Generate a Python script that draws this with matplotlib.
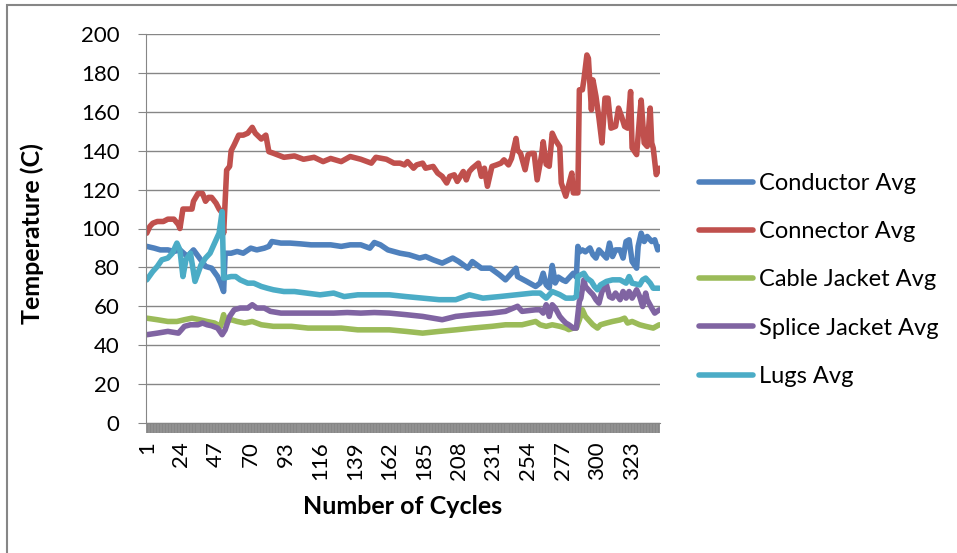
import matplotlib
matplotlib.use("Agg")
import matplotlib.pyplot as plt
from matplotlib.patches import Rectangle

plt.rcParams['font.family'] = ['Lato', 'DejaVu Sans']

# values, (cycle, temperature C) per series
conductor_x = [1, 6, 10, 15, 19, 23, 28, 32, 36, 40, 44, 48, 50, 52, 53, 57, 61, 65, 70, 74,
               79, 82, 84, 90, 96, 103, 110, 116, 123, 130, 136, 143, 149, 152, 156, 161, 169,
               175, 182, 186, 191, 197, 204, 208, 214, 217, 223, 229, 235, 239, 246, 247, 253,
               259, 262, 264, 266, 268, 270, 272, 274, 277, 279, 281, 284, 286, 287, 288, 290,
               292, 295, 297, 299, 301, 303, 306, 308, 310, 312, 315, 317, 319, 321, 323, 326,
               327, 329, 331, 333, 336, 338, 340, 341]
conductor = [90.8, 89.9, 89, 89, 88.2, 89, 85.6, 89, 84.8, 80.5, 79.6, 75.3, 71.9, 67.6, 87.3,
             87.3, 88.2, 87.3, 89.9, 89, 89.9, 90.8, 93.3, 92.5, 92.5, 92.1, 91.6, 91.6, 91.6,
             90.8, 91.6, 91.6, 89.9, 92.8, 91.6, 89, 87.3, 86.5, 84.8, 85.6, 83.9, 82.2, 84.8,
             83, 79.6, 83, 79.6, 79.6, 76.2, 73.6, 79.6, 75.3, 72.8, 70.2, 72, 77, 71, 69.5,
             81, 72, 75, 73.5, 72.8, 74.5, 77, 75, 90.8, 88, 89, 88, 90, 86.5, 84.8, 89, 87.3,
             84.8, 92.5, 85.6, 89, 89, 84.8, 93.3, 94.2, 83, 79.6, 90.8, 97.6, 93.3, 95.9,
             93.3, 94.2, 89, 90.5]

connector_x = [1, 3, 5, 8, 12, 15, 19, 22, 23, 25, 28, 31, 32, 35, 38, 40, 42, 44, 47, 49, 51,
               52, 54, 56, 57, 59, 62, 65, 68, 71, 73, 77, 80, 82, 85, 92, 99, 105, 112, 118,
               123, 130, 136, 143, 150, 153, 160, 165, 169, 172, 174, 178, 180, 184, 186, 191,
               194, 197, 200, 202, 205, 207, 211, 213, 215, 217, 221, 223, 225, 227, 230, 233,
               236, 238, 241, 243, 246, 247, 249, 252, 254, 256, 258, 260, 263, 264, 266, 268,
               270, 272, 275, 276, 279, 281, 283, 284, 287, 288, 290, 291, 293, 294, 296, 297,
               299, 301, 303, 305, 307, 309, 312, 314, 316, 318, 320, 322, 323, 326, 328, 329,
               331, 333, 335, 336, 337, 339, 341]
connector = [97.6, 101, 102.7, 103.6, 103.6, 104.8, 104.8, 102, 100, 110, 110, 110, 114, 118,
             118, 114, 116, 116, 113, 110, 108, 97.6, 130, 132, 140, 143, 148, 148, 149, 152,
             149, 146, 148, 139.5, 138.7, 136.6, 137.3, 135.6, 136.6, 134.4, 136, 134.4, 137,
             135.6, 133.6, 136.6, 135.6, 133.6, 133.6, 132.7, 134.4, 131, 132.7, 133.6, 131,
             131.9, 128.5, 126.8, 123.4, 126.8, 127.6, 124.2, 129.3, 125, 129.3, 131, 133.6,
             126.8, 131, 121.7, 131.9, 132.7, 133.6, 135.3, 132.7, 136, 146.3, 140.3, 138.6,
             130.2, 138, 138.6, 138.6, 125, 138, 144.6, 133, 132, 149, 145.6, 142, 123.4,
             116.6, 122.6, 128.5, 118.3, 118.3, 171.3, 171.3, 176.4, 189.2, 187.5, 161, 176.4,
             168, 156.8, 144, 167, 167, 151.6, 152.5, 161.9, 157.6, 152.5, 151.6, 170.4, 141.4,
             138, 157.6, 166, 144, 142.2, 161.9, 144, 141.4, 127.7, 131]

cable_x = [1, 8, 15, 21, 26, 31, 36, 41, 46, 50, 52, 53, 57, 61, 66, 71, 77, 85, 97, 108, 119,
           130, 141, 152, 162, 173, 184, 195, 206, 217, 230, 239, 250, 259, 262, 266, 270, 275,
           279, 281, 284, 286, 288, 290, 292, 295, 297, 300, 302, 306, 310, 315, 318, 320, 323,
           328, 332, 337, 341]
cable = [53.9, 53.1, 52.2, 52.2, 53.1, 53.9, 53.1, 52.2, 51.4, 49.7, 55.7, 52.2, 53.1, 52.2,
         51.4, 52.2, 50.5, 49.7, 49.7, 48.8, 48.8, 48.8, 47.9, 47.9, 47.9, 47.1, 46.2, 47.1,
         47.9, 48.8, 49.7, 50.5, 50.5, 52.2, 50.5, 49.7, 50.5, 49.7, 48.8, 48, 48.8, 48.8, 53,
         58.2, 54.8, 52.2, 50.5, 48.8, 50.5, 51.4, 52.2, 53, 53.9, 51.4, 52.2, 50.5, 49.7,
         48.8, 50.5]

splice_x = [1, 8, 15, 22, 26, 30, 35, 38, 41, 44, 48, 51, 53, 56, 59, 63, 68, 71, 74, 79, 83,
            90, 99, 108, 116, 125, 134, 143, 152, 162, 173, 184, 197, 206, 217, 230, 239, 247,
            250, 259, 262, 264, 266, 268, 270, 272, 275, 277, 279, 281, 284, 286, 288, 289,
            291, 292, 295, 297, 299, 301, 303, 306, 308, 310, 312, 315, 317, 319, 321, 323,
            326, 328, 330, 332, 333, 336, 338, 341]
splice = [45.4, 46.2, 47.1, 46.2, 49.7, 50.5, 50.5, 51.4, 50.5, 50, 48.8, 45.4, 47.9, 54.8,
          58.2, 59.1, 59.1, 60.8, 59.1, 59.1, 57.4, 56.5, 56.5, 56.5, 56.5, 56.5, 56.8, 56.5,
          56.8, 56.5, 55.7, 54.8, 53.1, 54.8, 55.7, 56.5, 57.4, 60, 57.4, 58.2, 58.2, 56.5,
          60.8, 54.8, 60.8, 59.1, 54.8, 53, 51.4, 50.5, 48.8, 48.8, 62.5, 64.2, 73.6, 70.2,
          67.6, 66, 63.4, 61.6, 67.6, 71, 65, 64.2, 66.8, 63.4, 67.6, 64.2, 67.6, 64.2, 68.5,
          65, 59.9, 66.8, 63.4, 59.1, 56.5, 58.2]

lugs_x = [1, 5, 8, 11, 15, 18, 21, 23, 25, 27, 30, 33, 37, 40, 43, 47, 49, 51, 52, 57, 60, 63,
          68, 72, 77, 81, 85, 92, 99, 107, 116, 125, 132, 141, 152, 162, 173, 184, 195, 206,
          215, 224, 235, 246, 257, 262, 266, 270, 275, 279, 284, 286, 287, 289, 291, 293, 296,
          298, 300, 302, 306, 310, 315, 319, 321, 323, 328, 330, 332, 335, 337, 341]
lugs = [73.6, 77.9, 80.5, 83.9, 84.8, 87.3, 92.5, 89, 75.3, 83.9, 87.3, 72.8, 81.3, 84.8, 87.3,
        94.2, 97.6, 108.7, 74.5, 75.3, 75.3, 73.6, 71.9, 71.9, 70.2, 69.3, 68.5, 67.6, 67.6,
        66.8, 65.9, 66.8, 65, 65.9, 65.9, 65.9, 65, 64.2, 63.4, 63.4, 65.9, 64.2, 65, 65.9,
        66.8, 66.8, 64.2, 67.6, 66, 64.2, 64.2, 65, 75.3, 76.2, 77, 74.5, 72.8, 70.2, 68.5,
        71, 72.8, 73.6, 73.6, 71.9, 75.3, 71.9, 71, 73.6, 74.5, 71.9, 69.3, 69.3]

n_cycles = 341
tick_cycles = list(range(1, n_cycles, 23))

series = [
    ("Conductor Avg", conductor_x, conductor, "#4F81BD"),
    ("Connector Avg", connector_x, connector, "#C0504D"),
    ("Cable Jacket Avg", cable_x, cable, "#9BBB59"),
    ("Splice Jacket Avg", splice_x, splice, "#8064A2"),
    ("Lugs Avg", lugs_x, lugs, "#4BACC6"),
]

fig = plt.figure(figsize=(9.57, 5.53), dpi=100)
ax = fig.add_axes([146 / 957, 1 - 423 / 553, (660 - 146) / 957, (423 - 34) / 553])

for name, xs, ys, col in series:
    ax.plot(xs, ys, color=col, lw=4, label=name,
            solid_joinstyle='round', solid_capstyle='round')

ax.set_ylim(0, 200)
ax.set_xlim(0.5, n_cycles + 0.5)
ax.set_yticks(range(0, 201, 20))
ax.set_xticks(tick_cycles)
ax.set_xticklabels([str(t) for t in tick_cycles], rotation=90)
ax.set_xticks(range(1, n_cycles + 1), minor=True)

grey = '#868686'
ax.grid(axis='y', color=grey, lw=1.0)
ax.set_axisbelow(True)
for s in ['top', 'right']:
    ax.spines[s].set_visible(False)
ax.spines['left'].set_color(grey)
ax.spines['bottom'].set_color(grey)
ax.tick_params(axis='y', length=6, color=grey, labelsize=16, pad=13)
ax.tick_params(axis='x', which='both', length=7, width=1.3, color=grey, labelsize=16, pad=6)

ax.set_xlabel("Number of Cycles", fontsize=18, fontweight='bold')
ax.set_ylabel("Temperature (C)", fontsize=18, fontweight='bold')
ax.xaxis.set_label_coords(0.5, -(506 - 423) / 389)
ax.yaxis.set_label_coords((32 - 146) / 514, (423 - 234) / 389)
ax.xaxis.label.set_va('center')
ax.yaxis.label.set_va('center')

leg = ax.legend(loc='center left', bbox_to_anchor=(699 / 957, 1 - 280 / 553),
                bbox_transform=fig.transFigure, frameon=False, fontsize=17,
                handlelength=2.3, handletextpad=0.25, labelspacing=1.15,
                borderpad=0, borderaxespad=0)

# outer chart border
fig.patches.append(Rectangle((7 / 957, -0.1), 1.2, 1.1 - 5 / 553, transform=fig.transFigure,
                             fill=False, edgecolor=grey, lw=1.5))

fig.savefig("out.png", dpi=100)
